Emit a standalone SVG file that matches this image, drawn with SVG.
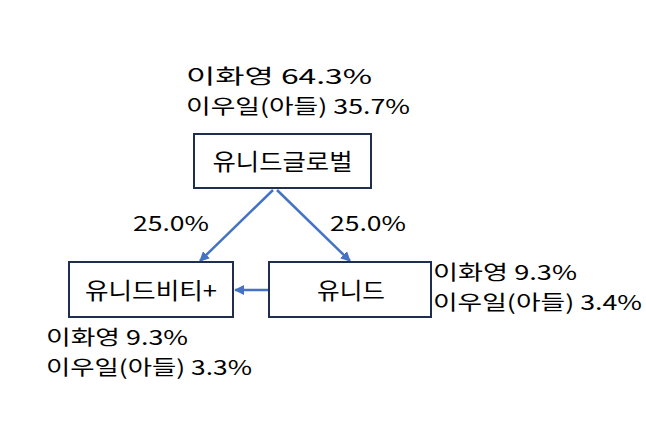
<svg xmlns="http://www.w3.org/2000/svg" width="646" height="435" viewBox="0 0 646 435">
<defs>
<style>
text{font-family:"Noto Sans CJK KR","Noto Sans",sans-serif;fill:#000;font-size:20.5px}
.box{fill:#fff;stroke:#1f2d4e;stroke-width:2}
.lbl{font-size:23px;text-anchor:middle}
.conn{stroke:#4472c4;stroke-width:2.5;fill:none;marker-end:url(#ah)}
</style>
<marker id="ah" viewBox="0 0 10 10" refX="9" refY="5" markerWidth="4" markerHeight="4" orient="auto">
<path d="M0,0 L10,5 L0,10 z" fill="#4472c4"/>
</marker>
</defs>
<rect width="646" height="435" fill="#fff"/>
<g id="connectors">
<line class="conn" x1="273" y1="190" x2="200" y2="261"/>
<line class="conn" x1="277" y1="190" x2="350" y2="261"/>
<line class="conn" x1="269" y1="290" x2="235" y2="290"/>
</g>
<g id="n-global">
<rect class="box" x="194" y="134" width="177" height="54"/>
<text class="lbl" x="282.5" y="170" textLength="140" lengthAdjust="spacingAndGlyphs">유니드글로벌</text>
</g>
<g id="n-bt">
<rect class="box" x="69" y="262" width="164" height="55"/>
<text class="lbl" x="151" y="299" textLength="132" lengthAdjust="spacingAndGlyphs">유니드비티+</text>
</g>
<g id="n-unid">
<rect class="box" x="269" y="262" width="162" height="55"/>
<text class="lbl" x="351" y="299" textLength="68" lengthAdjust="spacingAndGlyphs">유니드</text>
</g>
<g id="labels">
<text x="186" y="84" textLength="186" lengthAdjust="spacingAndGlyphs">이화영 64.3%</text>
<text x="186" y="114" textLength="224" lengthAdjust="spacingAndGlyphs">이우일(아들) 35.7%</text>
<text x="133" y="231" textLength="76" lengthAdjust="spacingAndGlyphs">25.0%</text>
<text x="330" y="231" textLength="76" lengthAdjust="spacingAndGlyphs">25.0%</text>
<text x="433" y="280" textLength="144" lengthAdjust="spacingAndGlyphs">이화영 9.3%</text>
<text x="433" y="310" textLength="209" lengthAdjust="spacingAndGlyphs">이우일(아들) 3.4%</text>
<text x="46" y="345" textLength="142" lengthAdjust="spacingAndGlyphs">이화영 9.3%</text>
<text x="46" y="375" textLength="206" lengthAdjust="spacingAndGlyphs">이우일(아들) 3.3%</text>
</g>
</svg>
